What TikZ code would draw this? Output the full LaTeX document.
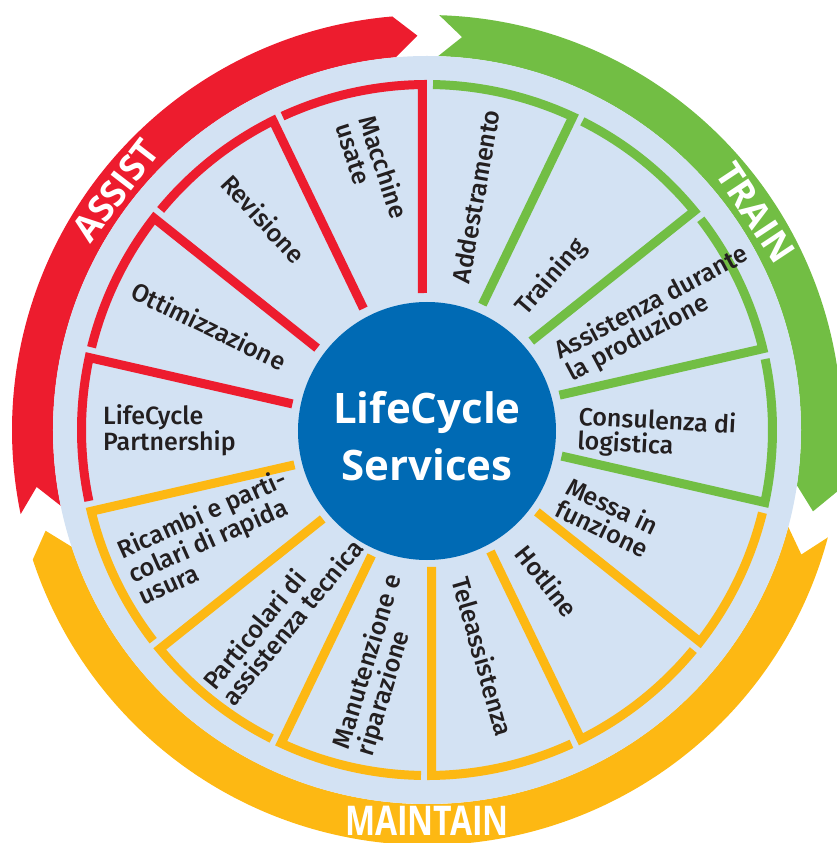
\documentclass[tikz,border=0pt]{standalone}
\usepackage{fontspec}
\setmainfont{Open Sans}
\newfontfamily\segfont{Fira Sans Medium}
\usepackage{tikz}
\usetikzlibrary{calc}

\definecolor{asred}{RGB}{237,28,46}
\definecolor{trgreen}{RGB}{114,190,68}
\definecolor{mtyellow}{RGB}{253,184,19}
\definecolor{hubblue}{RGB}{0,106,180}
\definecolor{discblue}{RGB}{211,226,243}
\definecolor{inkblack}{RGB}{35,31,32}

\tikzset{
  seglabel/.style={anchor=west, inner sep=0pt, align=left, text=inkblack,
                   font=\segfont\fontsize{25}{24.5}\selectfont},
  ringlabel/.style={text=white, inner sep=0pt,
                    font=\bfseries\fontsize{36}{36}\selectfont},
}

\begin{document}
\begin{tikzpicture}
\useasboundingbox (-427pt,-413pt) rectangle (410pt,430pt);

\foreach \t/\h/\c in {191.7/94.8/asred, 88.3/-8.5/trgreen, -15/-161.8/mtyellow}
  \fill[\c] (\t:415pt) arc[start angle=\t, end angle=\h, radius=415pt]
    -- (\h-3.4:394.5pt) -- (\h:374pt)
    arc[start angle=\h, end angle=\t, radius=374pt]
    -- (\t-3.4:394.5pt) -- cycle;

\fill[discblue] (0,0) circle[radius=374pt];

\foreach \k/\c in {0/trgreen,1/trgreen,2/trgreen,3/trgreen,
                   4/mtyellow,5/mtyellow,6/mtyellow,7/mtyellow,8/mtyellow,9/mtyellow,
                   10/asred,11/asred,12/asred,13/asred}{
  \pgfmathsetmacro\ts{90-25.714*\k}
  \pgfmathsetmacro\te{\ts-25.714}
  \draw[\c, line width=9pt, line join=miter]
    (\ts-1:345.5pt) arc[start angle=\ts-1, end angle=\te+0.75, radius=345.5pt]
    -- ($(\te:137pt)+(\te+90:4.5pt)$);
}

\node[circle, fill=hubblue, minimum size=258pt, inner sep=0pt] (hub) at (0,-1pt) {};
\node[text=white, align=center, inner sep=0pt,
      font=\bfseries\fontsize{42}{57}\selectfont] (hubtext) at (0,-6pt) {LifeCycle\\Services};

\foreach \a/\rot/\txt [count=\i] in {77.14/80/Addestramento, 51.43/49/Training,
    25.71/28/{Assistenza durante\\la produzione}, 0/-3/{Consulenza di\\logistica},
    -25.71/-25.7/{Messa in\\funzione}, -51.43/-51.4/Hotline, -77.14/-74/Teleassistenza}
  \node[seglabel, rotate=\rot] (out\i) at (\a:151pt) {\txt};

\foreach \a/\rot/\r/\txt [count=\i] in {-102.86/73/330/{Manutenzione e\\riparazione},
    -128.57/50.5/337/{Particolari di\\assistenza tecnica},
    -154.29/24/331/{Ricambi e parti-\\colari di rapida\\usura},
    180/0/324/{LifeCycle\\Partnership}, 154.29/-26/326/Ottimizzazione,
    128.57/-47/322/Revisione, 102.86/-72/318/{Macchine\\usate}}
  \node[seglabel, rotate=\rot] (in\i) at (\a:\r pt) {\txt};

\node[ringlabel, rotate=52.4] (assist) at (142.4:393pt) {ASSIST};
\node[ringlabel, rotate=-56.5] (train) at (33.5:394pt) {TRAIN};
\node[ringlabel, xscale=0.78, font=\bfseries\fontsize{41}{41}\selectfont] (maintain) at (-90:391pt) {MAINTAIN};
\end{tikzpicture}
\end{document}
